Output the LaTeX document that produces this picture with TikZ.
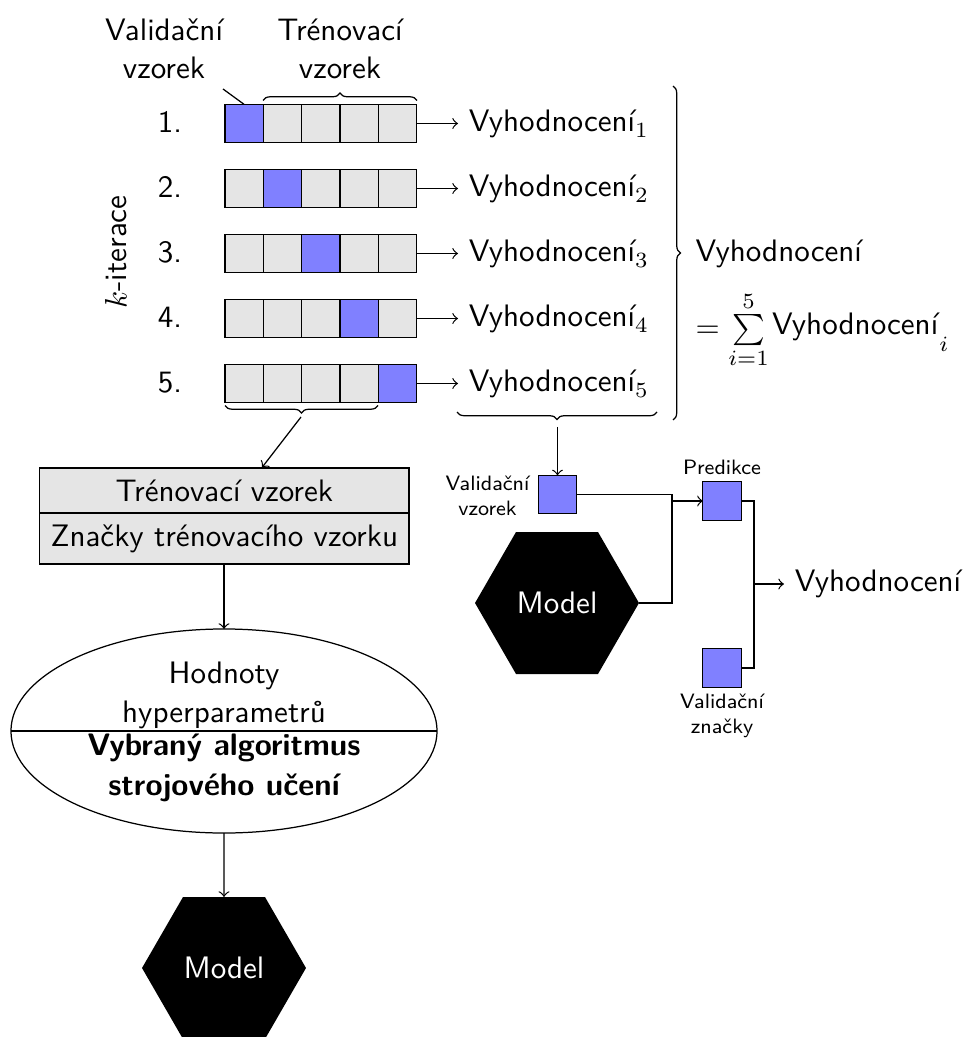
\documentclass[tikz,border=0pt]{standalone}
\usetikzlibrary{shapes.geometric,decorations.pathreplacing}
\tikzset{
  cellbase/.style={draw,minimum size=12.33pt,inner sep=0pt,outer sep=0pt},
  traincell/.style={cellbase,fill=gray!20},
  valcell/.style={cellbase,fill=blue!50},
  lab/.style={inner sep=0pt,anchor=base,font=\sffamily},
  small/.style={inner sep=0pt,align=center,font=\sffamily\fontsize{6.7}{8}\selectfont},
  res/.style={anchor=base west,font=\sffamily},
  hexa/.style={regular polygon,regular polygon sides=6,fill=black,text=white,font=\sffamily,minimum size=52.8pt,inner sep=0pt,outer sep=0pt},
  bar/.style={draw,fill=gray!20,minimum width=119pt,inner sep=0pt,outer sep=0pt,font=\sffamily},
  brc/.style={decorate,decoration={brace,amplitude=2.4pt}}
}
\begin{document}
\begin{tikzpicture}[x=0.322pt,y=-0.322pt]
\useasboundingbox (0,0) rectangle (969,1037);
% header labels
\node[lab,align=center,anchor=center] (hval) at (164,48.5) {Validační\\[0.2pt]vzorek};
\node[lab,align=center,anchor=center] (htr) at (340,48.5) {Trénovací\\[0.2pt]vzorek};
% rows
\foreach \r/\y in {1/123.5,2/188.5,3/253.5,4/318.5,5/383.5}{
  \foreach \c/\x in {1/244.2,2/282.5,3/320.8,4/359.1,5/397.4}{
    \ifnum\c=\r \def\cellst{valcell}\else\def\cellst{traincell}\fi
    \node[\cellst] (c\r\c) at (\x,\y) {};
  }
  \node[lab] (n\r) at (170,\y+9.5) {\r.};
  \node[res] (v\r) at (458,\y+8) {Vyhodnocení\raisebox{-2pt}{$\scriptstyle\r$}};
  \draw[->] (c\r5.east) -- (c\r5.east -| v\r.west);
}
\node[lab,rotate=90,anchor=center] (kit) at (116,252) {$k$-iterace};
% top annotations
\coordinate (valtip) at (223,89);
\draw (valtip) -- (244,104.3);
\coordinate (b1s) at (263,100.5);
\coordinate (b1e) at (417,100.5);
\draw[brc] (b1s) -- (b1e);
% big right brace
\coordinate (b2s) at (673,86);
\coordinate (b2e) at (673,420);
\draw[brc] (b2s) -- (b2e);
\node[res,inner sep=0pt] (sumt) at (695,262) {Vyhodnocení};
\node[res,inner sep=0pt] (sumf) at (695,335) {\raisebox{-0.9pt}{$=\sum\limits_{i=1}^{5}$}\hspace{1.1pt}Vyhodnocení\kern0.4pt\raisebox{-5.3pt}{$\scriptstyle i$}};
% lower-left brace
\coordinate (b3s) at (378,405.5);
\coordinate (b3e) at (225,405.5);
\draw[brc] (b3s) -- (b3e);
\coordinate (b3t) at (301,417);
% training box
\node[bar,minimum height=14.5pt] (trv) at (224.3,490.5) {Trénovací vzorek};
\node[bar,minimum height=16.4pt] (trz) at (224.3,538.5) {Značky trénovacího vzorku};
\draw[->] (b3t) -- (262,467.5);
% ellipse
\node[draw,ellipse,minimum width=137.2pt,minimum height=65.7pt,inner sep=0pt,outer sep=0pt] (ell) at (224,731) {};
\draw (ell.west) -- (ell.east);
\node[lab] (hod) at (224,683) {Hodnoty};
\node[lab] (hyp) at (224,722) {hyperparametrů};
\node[lab,font=\sffamily\bfseries] (vyb) at (224,755.5) {Vybraný algoritmus};
\node[lab,font=\sffamily\bfseries] (str) at (224,795) {strojového učení};
\draw[->] (trz.south -| ell.north) -- (ell.north);
% model bottom
\node[hexa] (m2) at (224,968) {Model};
\draw[->] (ell.south) -- (m2.north);
% right evaluation part
\coordinate (b4s) at (657,412);
\coordinate (b4e) at (457,412);
\draw[brc] (b4s) -- (b4e);
\coordinate (b4t) at (557.5,427);
\node[valcell] (vs) at (557.5,494.5) {};
\draw[->] (b4t) -- (vs.north);
\node[small] (vsl) at (487.5,495.5) {Validační\\vzorek};
\node[hexa] (m1) at (557,603) {Model};
\node[valcell] (pr) at (722,501) {};
\node[small] (prl) at (722,467) {Predikce};
\node[valcell] (vz) at (722,668) {};
\node[small] (vzl) at (722,716) {Validační\\značky};
\coordinate (j1) at (672,501);
\draw (vs.east) -| (j1);
\draw (m1.east) -| (j1);
\draw[->] (j1) -- (pr.west);
\coordinate (j2) at (754,584);
\draw (pr.east) -| (j2);
\draw (vz.east) -| (j2);
\node[res] (vf) at (784,591) {Vyhodnocení};
\draw[->] (j2) -- (j2 -| vf.west);
\end{tikzpicture}
\end{document}
